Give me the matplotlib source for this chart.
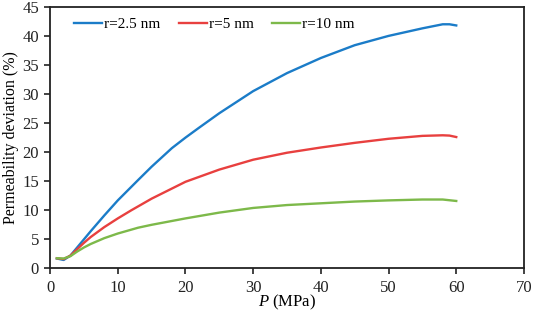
import matplotlib
matplotlib.use("Agg")
import matplotlib.pyplot as plt

plt.rcParams['font.family'] = ['Liberation Serif', 'DejaVu Serif']
plt.rcParams['mathtext.fontset'] = 'custom'
plt.rcParams['mathtext.it'] = 'Liberation Serif:italic'
plt.rcParams['mathtext.rm'] = 'Liberation Serif'

# Data
p_blue = [1, 2, 3, 4, 5, 6, 8, 10, 13, 15, 18, 20, 22, 25, 30, 35, 40, 45, 50, 55, 58, 59, 60]
v_blue = [1.7, 1.45, 2.2, 3.6, 5.0, 6.4, 9.1, 11.7, 15.2, 17.5, 20.7, 22.5, 24.2, 26.7, 30.5, 33.6, 36.2, 38.4, 40.0, 41.3, 42.0, 42.0, 41.8]

p_red = [1, 2, 3, 4, 5, 6, 8, 10, 12, 15, 20, 25, 30, 35, 40, 45, 50, 55, 58, 59, 60]
v_red = [1.75, 1.6, 2.2, 3.3, 4.4, 5.4, 7.1, 8.6, 10.0, 12.0, 14.9, 17.0, 18.7, 19.9, 20.8, 21.6, 22.3, 22.8, 22.9, 22.85, 22.6]

p_green = [1, 2, 3, 4, 5, 6, 8, 10, 13, 15, 20, 25, 30, 35, 40, 45, 50, 55, 58, 60]
v_green = [1.75, 1.7, 2.1, 2.9, 3.6, 4.2, 5.2, 6.0, 7.0, 7.5, 8.6, 9.6, 10.4, 10.9, 11.2, 11.5, 11.7, 11.85, 11.85, 11.6]

labels = ["r=2.5 nm", "r=5 nm", "r=10 nm"]
colors = ["#1b7cc8", "#e8403f", "#7db94a"]

fig = plt.figure(figsize=(5.33, 3.11), dpi=100)
ax = fig.add_axes([0.094, 0.137, 0.889, 0.841])

ax.plot(p_blue, v_blue, color=colors[0], lw=1.7, label=labels[0])
ax.plot(p_red, v_red, color=colors[1], lw=1.7, label=labels[1])
ax.plot(p_green, v_green, color=colors[2], lw=1.7, label=labels[2])

ax.set_xlim(0, 70)
ax.set_ylim(0, 45)
ax.set_xticks(range(0, 71, 10))
ax.set_yticks(range(0, 46, 5))
ax.tick_params(direction='out', length=4, width=1.2, labelsize=12, colors='#222222', pad=4)
for s in ax.spines.values():
    s.set_linewidth(1.3)
    s.set_color('#222222')

ax.set_xlabel(r"$P$ (MPa)", fontsize=12, labelpad=-2)
ax.set_ylabel("Permeability deviation (%)", fontsize=11.5, labelpad=2)

ax.legend(loc='upper left', ncol=3, frameon=False, fontsize=11,
          handlelength=1.85, handletextpad=0.12, columnspacing=1.2,
          bbox_to_anchor=(0.028, 1.0), borderaxespad=0.3)

fig.savefig("out.png", dpi=100)
